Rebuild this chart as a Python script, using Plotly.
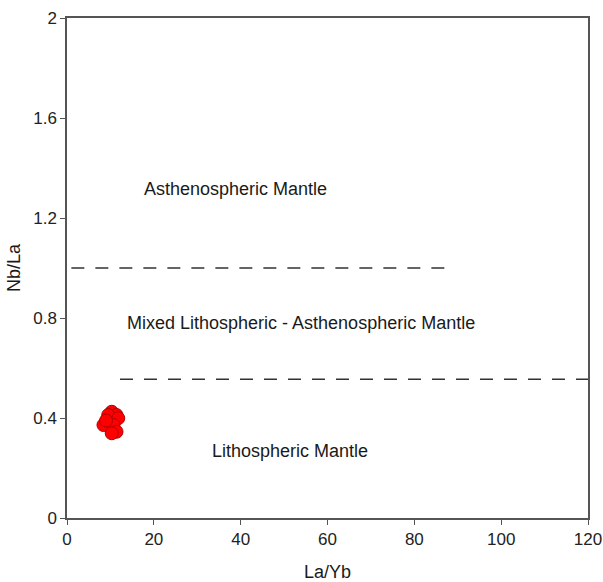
import plotly.graph_objects as go

# Sample data (La/Yb vs Nb/La)
la_yb = [10.3, 11.4, 9.5, 11.8, 8.4, 10.7, 11.4, 10.3, 9.0]
nb_la = [0.425, 0.412, 0.412, 0.399, 0.372, 0.372, 0.345, 0.339, 0.39]

# Boundary lines
upper_x = [1, 89]
upper_y = [1.0, 1.0]
lower_x = [12.2, 120]
lower_y = [0.555, 0.555]

# Field labels
label_text = ["Asthenospheric Mantle",
              "Mixed Lithospheric - Asthenospheric Mantle",
              "Lithospheric Mantle"]
label_x = [38.7, 53.8, 51.4]
label_y = [1.315, 0.78, 0.268]

x_ticks = [0, 20, 40, 60, 80, 100, 120]
y_ticks = [0, 0.4, 0.8, 1.2, 1.6, 2]
y_tick_text = ["0", "0.4", "0.8", "1.2", "1.6", "2"]

fig = go.Figure()
for xs, ys in [(upper_x, upper_y), (lower_x, lower_y)]:
    fig.add_trace(go.Scatter(x=xs, y=ys, mode="lines",
                             line=dict(color="#333333", width=1.3, dash="13px,11px"),
                             showlegend=False, hoverinfo="skip"))

fig.add_trace(go.Scatter(x=la_yb, y=nb_la, mode="markers",
                         marker=dict(size=13, color="#ff0000",
                                     line=dict(color="#b00000", width=1)),
                         showlegend=False))

for t, x, y in zip(label_text, label_x, label_y):
    fig.add_annotation(x=x, y=y, text=t, showarrow=False,
                       font=dict(family="Liberation Sans, Arial, sans-serif", size=18, color="#1a1a1a"))

tick_font = dict(family="Liberation Sans Narrow, Arial Narrow, Liberation Sans, sans-serif", size=17, color="#222222")
title_font = dict(family="Liberation Sans, Arial, sans-serif", size=18, color="#1a1a1a")

fig.update_xaxes(range=[0, 120], tickvals=x_ticks, ticks="outside", ticklen=5,
                 tickcolor="#555555", showline=True, linecolor="#555555", linewidth=1.5,
                 mirror=True, showgrid=False, zeroline=False, tickfont=tick_font,
                 automargin=False,
                 title=dict(text="La/Yb", font=title_font, standoff=18))
fig.update_yaxes(range=[0, 2], tickvals=y_ticks, ticktext=y_tick_text, ticks="outside", ticklen=5,
                 tickcolor="#555555", showline=True, linecolor="#555555", linewidth=1.5,
                 mirror=True, showgrid=False, zeroline=False, tickfont=tick_font,
                 automargin=False,
                 title=dict(text="Nb/La", font=title_font, standoff=8))

fig.update_layout(width=603, height=582, plot_bgcolor="white", paper_bgcolor="white",
                  margin=dict(l=67, r=15, t=18, b=64), showlegend=False)

fig.write_html("out.html")
